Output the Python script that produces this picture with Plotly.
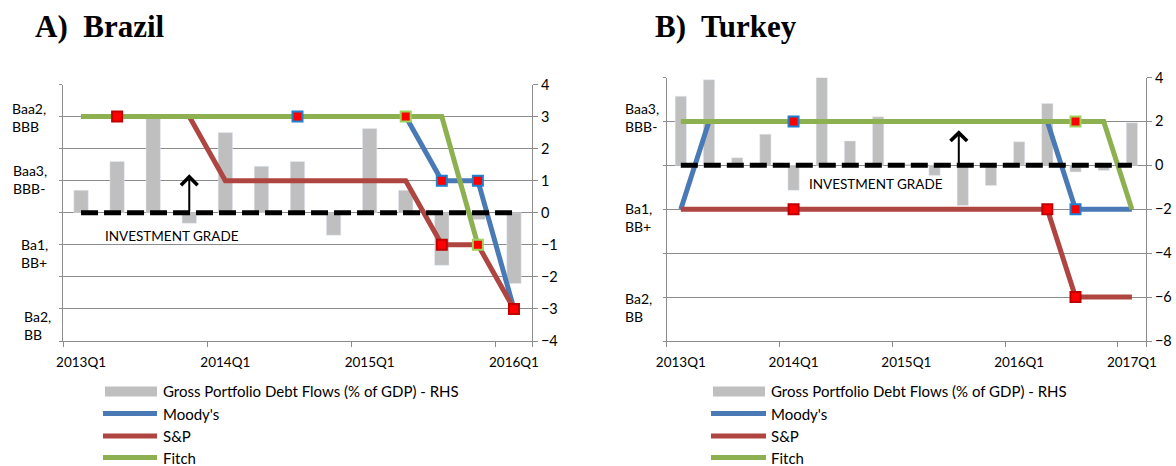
import plotly.graph_objects as go

# ---------------- data ----------------
quarters_br = ["2013Q1", "2013Q2", "2013Q3", "2013Q4", "2014Q1", "2014Q2", "2014Q3",
               "2014Q4", "2015Q1", "2015Q2", "2015Q3", "2015Q4", "2016Q1"]
br_flows = [0.7, 1.6, 2.95, -0.33, 2.5, 1.45, 1.6, -0.7, 2.63, 0.7, -1.64, -0.21, -2.21]
br_moodys = [3, 3, 3, 3, 3, 3, 3, 3, 3, 3, 1, 1, -3]
br_sp = [3, 3, 3, 3, 1, 1, 1, 1, 1, 1, -1, -1, -3]
br_fitch = [3, 3, 3, 3, 3, 3, 3, 3, 3, 3, 3, -1, None]
br_threshold = [0] * len(quarters_br)
br_event_q = ["2013Q2", "2014Q3", "2015Q2", "2015Q3", "2015Q4", "2015Q3", "2015Q4", "2016Q1"]
br_event_val = [3, 3, 3, 1, 1, -1, -1, -3]
br_event_agency = ["S&P", "Moody's", "Fitch", "Moody's", "Moody's", "S&P", "Fitch", "S&P"]
br_ticks = ["2013Q1", "2014Q1", "2015Q1", "2016Q1"]
br_rating_labels = ["Baa2,<br>BBB", "Baa3,<br>BBB-", "Ba1,<br>BB+", "Ba2,<br>BB"]

quarters_tr = ["2013Q1", "2013Q2", "2013Q3", "2013Q4", "2014Q1", "2014Q2", "2014Q3",
               "2014Q4", "2015Q1", "2015Q2", "2015Q3", "2015Q4", "2016Q1", "2016Q2",
               "2016Q3", "2016Q4", "2017Q1"]
tr_flows = [3.15, 3.9, 0.34, 1.42, -1.14, 4.0, 1.11, 2.21, 0.05, -0.46, -1.83, -0.92,
            1.07, 2.82, -0.3, -0.23, 1.94]
tr_moodys = [-2, 2, 2, 2, 2, 2, 2, 2, 2, 2, 2, 2, 2, 2, -2, -2, -2]
tr_sp = [-2, -2, -2, -2, -2, -2, -2, -2, -2, -2, -2, -2, -2, -2, -6, -6, -6]
tr_fitch = [2, 2, 2, 2, 2, 2, 2, 2, 2, 2, 2, 2, 2, 2, 2, 2, -2]
tr_threshold = [0] * len(quarters_tr)
tr_event_q = ["2014Q1", "2014Q1", "2016Q2", "2016Q3", "2016Q3", "2016Q3"]
tr_event_val = [2, -2, -2, 2, -2, -6]
tr_event_agency = ["Moody's", "S&P", "S&P", "Fitch", "Moody's", "S&P"]
tr_ticks = ["2013Q1", "2014Q1", "2015Q1", "2016Q1", "2017Q1"]
tr_rating_labels = ["Baa3,<br>BBB-", "Ba1,<br>BB+", "Ba2,<br>BB"]

legend_names = ["Gross Portfolio Debt Flows (% of GDP) - RHS", "Moody's", "S&P", "Fitch"]

# ---------------- styling ----------------
W, H = 1176, 466
FONT = "Lato"
GRID = "#8c8c8c"
BAR = "#bfbfbf"
LINE_COL = {"Moody's": "#4a7ab5", "S&P": "#ae4541", "Fitch": "#8db050"}
EDGE_COL = {"Moody's": "#1f7fd0", "S&P": "#c00000", "Fitch": "#9bd45a"}


def px_x(p):
    return p / W


def px_y(p):
    return 1 - p / H


fig = go.Figure()


def add_panel(quarters, flows, moodys, sp, fitch, threshold, ev_q, ev_val, ev_ag,
              xa, ybar, yline):
    fig.add_trace(go.Bar(x=quarters, y=flows, marker_color=BAR, xaxis=xa, yaxis=ybar,
                         showlegend=False, hoverinfo="skip"))
    for name, vals in (("Moody's", moodys), ("S&P", sp), ("Fitch", fitch)):
        fig.add_trace(go.Scatter(x=quarters, y=vals, mode="lines", name=name,
                                 line=dict(color=LINE_COL[name], width=5),
                                 xaxis=xa, yaxis=yline, showlegend=False))
    fig.add_trace(go.Scatter(x=quarters, y=threshold, mode="lines",
                             line=dict(color="black", width=5, dash="17px,6px"),
                             xaxis=xa, yaxis=yline, showlegend=False))
    fig.add_trace(go.Scatter(x=ev_q, y=ev_val, mode="markers",
                             marker=dict(symbol="square", size=10, color="#ff0000",
                                         line=dict(width=2, color=[EDGE_COL[a] for a in ev_ag])),
                             xaxis=xa, yaxis=yline, showlegend=False))


add_panel(quarters_br, br_flows, br_moodys, br_sp, br_fitch, br_threshold,
          br_event_q, br_event_val, br_event_agency, "x", "y", "y2")
add_panel(quarters_tr, tr_flows, tr_moodys, tr_sp, tr_fitch, tr_threshold,
          tr_event_q, tr_event_val, tr_event_agency, "x2", "y3", "y4")

tick_font = dict(family=FONT, size=14.5, color="black")

def xaxis_cfg(domain, cats, ticks, anchor):
    return dict(domain=domain, anchor=anchor, type="category", automargin=False,
                categoryorder="array", categoryarray=cats,
                range=[-0.5, len(cats) - 0.5],
                tickmode="array", tickvals=ticks, tickson="boundaries", tickangle=0,
                ticks="outside", ticklen=5, tickcolor=GRID, tickwidth=1,
                ticklabelstandoff=9,
                showline=True, linecolor=GRID, linewidth=1, showgrid=False,
                tickfont=dict(family=FONT, size=13.5, color="black"),
                fixedrange=True)

def ybar_cfg(domain, rng, dtick, anchor):
    return dict(domain=domain, anchor=anchor, side="right", range=rng, automargin=False,
                tickmode="linear", tick0=rng[0], dtick=dtick,
                showgrid=True, gridcolor=GRID, gridwidth=1, zeroline=False,
                showline=True, linecolor=GRID, linewidth=1,
                ticks="outside", ticklen=5, tickcolor=GRID,
                tickfont=tick_font, fixedrange=True)

def yline_cfg(overlay, rng, dtick, anchor):
    return dict(overlaying=overlay, anchor=anchor, side="left", range=rng, automargin=False,
                tickmode="linear", tick0=rng[0], dtick=dtick,
                showgrid=False, zeroline=False, showticklabels=False,
                showline=True, linecolor=GRID, linewidth=1,
                ticks="outside", ticklen=3, tickcolor=GRID, fixedrange=True)

ydom_br = [px_y(341), px_y(84.5)]
ydom_tr = [px_y(341), px_y(77.5)]

fig.update_layout(
    width=W, height=H,
    margin=dict(l=0, r=0, t=0, b=0, autoexpand=False),
    paper_bgcolor="white", plot_bgcolor="white",
    bargap=0.6,
    xaxis=xaxis_cfg([px_x(63), px_x(532)], quarters_br, br_ticks, "y"),
    yaxis=ybar_cfg(ydom_br, [-4, 4], 1, "x"),
    yaxis2=yline_cfg("y", [-4, 4], 1, "x"),
    xaxis2=xaxis_cfg([px_x(666.7), px_x(1146)], quarters_tr, tr_ticks, "y3"),
    yaxis3=ybar_cfg(ydom_tr, [-8, 4], 2, "x2"),
    yaxis4=yline_cfg("y3", [-8, 4], 2, "x2"),
    showlegend=False,
)

ann = []
shapes = []

# panel titles
for text, x in (("A)  Brazil", 33), ("B)  Turkey", 653)):
    ann.append(dict(text=f"<b>{text}</b>", x=px_x(x), y=px_y(27), xref="paper", yref="paper",
                    xanchor="left", yanchor="middle", showarrow=False,
                    font=dict(family="Liberation Serif", size=31, color="black")))

# rating labels on the left of each panel
for lab, x, y in zip(br_rating_labels, (10, 11, 19, 22), (117, 179, 253, 325)):
    ann.append(dict(text=lab, x=px_x(x), y=px_y(y), xref="paper", yref="paper",
                    xanchor="left", yanchor="middle", align="left", showarrow=False,
                    font=dict(family=FONT, size=14, color="black")))
for lab, y in zip(tr_rating_labels, (117.5, 217, 307.5)):
    ann.append(dict(text=lab, x=px_x(623), y=px_y(y), xref="paper", yref="paper",
                    xanchor="left", yanchor="middle", align="left", showarrow=False,
                    font=dict(family=FONT, size=14, color="black")))

# investment-grade arrows and captions
ann.append(dict(x=3, y=1.2, ax=3, ay=0, xref="x", yref="y2", axref="x", ayref="y2",
                showarrow=True, arrowhead=4, arrowwidth=2, arrowsize=1.6, arrowcolor="black",
                text=""))
ann.append(dict(x=9.86, y=1.6, ax=9.86, ay=0, xref="x2", yref="y4", axref="x2", ayref="y4",
                showarrow=True, arrowhead=4, arrowwidth=2, arrowsize=1.6, arrowcolor="black",
                text=""))
for x, y in ((172, 236), (875.5, 184)):
    ann.append(dict(text="INVESTMENT GRADE", x=px_x(x), y=px_y(y), xref="paper", yref="paper",
                    xanchor="center", yanchor="middle", showarrow=False,
                    font=dict(family=FONT, size=13.5, color="black")))

# legends
def add_legend(bar_x0, bar_x1, line_x0, line_x1, text_x, rows):
    shapes.append(dict(type="rect", xref="paper", yref="paper",
                       x0=px_x(bar_x0), x1=px_x(bar_x1), y0=px_y(396.5), y1=px_y(386.5),
                       fillcolor=BAR, line=dict(width=0)))
    for name, y in zip(legend_names[1:], rows[1:]):
        shapes.append(dict(type="line", xref="paper", yref="paper",
                           x0=px_x(line_x0), x1=px_x(line_x1), y0=px_y(y), y1=px_y(y),
                           line=dict(color=LINE_COL[name], width=5)))
    for name, y in zip(legend_names, rows):
        ann.append(dict(text=name, x=px_x(text_x), y=px_y(y), xref="paper", yref="paper",
                        xanchor="left", yanchor="middle", showarrow=False,
                        font=dict(family=FONT, size=15, color="black")))

add_legend(105, 157, 103, 157, 161, (391, 413.5, 436, 457.5))
add_legend(713, 765, 711, 766, 769, (391, 413.5, 436, 457.5))

fig.update_layout(annotations=ann, shapes=shapes)

fig.write_html("out.html")
